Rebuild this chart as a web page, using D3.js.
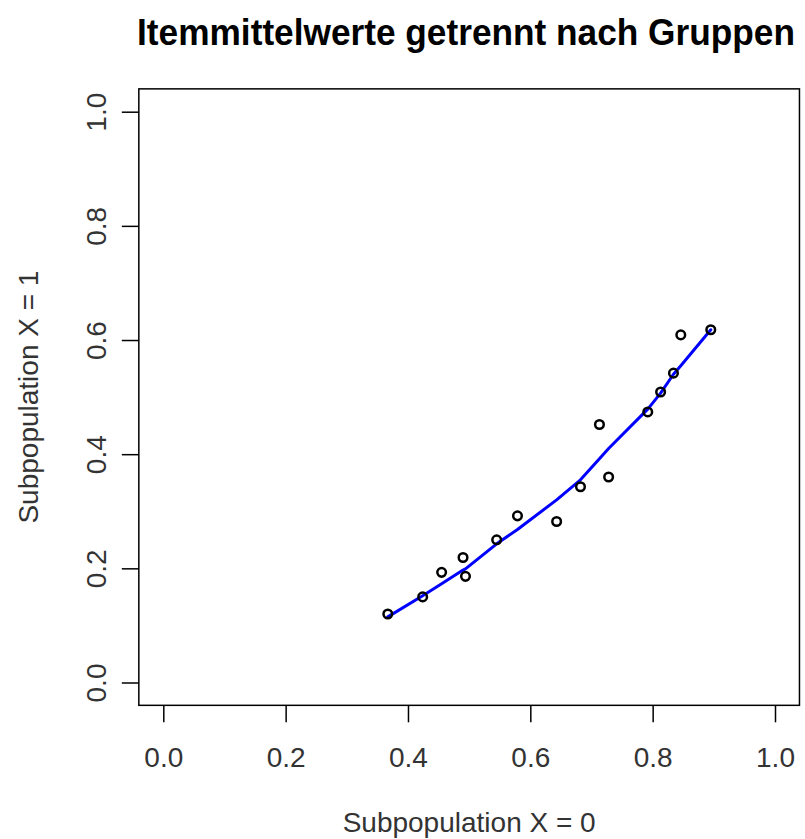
<!DOCTYPE html>
<html>
<head>
<meta charset="utf-8">
<script src="https://cdn.jsdelivr.net/npm/d3@7/dist/d3.min.js"></script>
<style>
  html, body { margin: 0; padding: 0; background: #fff; }
  svg { display: block; }
  text { font-family: "Liberation Sans", Arial, sans-serif; }
</style>
</head>
<body>
<svg id="chart" width="805" height="839"></svg>
<script>
// ---- Data ----
const title = "Itemmittelwerte getrennt nach Gruppen";
const xLabel = "Subpopulation X = 0";
const yLabel = "Subpopulation X = 1";
const tickValues = [0.0, 0.2, 0.4, 0.6, 0.8, 1.0];
const tickLabels = ["0.0", "0.2", "0.4", "0.6", "0.8", "1.0"];

// item means, group X = 0 (x) and group X = 1 (y)
const xValues = [0.367, 0.424, 0.455, 0.490, 0.494, 0.545, 0.579, 0.643,
                 0.682, 0.728, 0.713, 0.792, 0.813, 0.834, 0.846, 0.895];
const yValues = [0.120, 0.150, 0.193, 0.219, 0.186, 0.250, 0.292, 0.282,
                 0.343, 0.360, 0.452, 0.474, 0.509, 0.542, 0.609, 0.618];

// smoothed curve (lowess) evaluated at sorted x
const smoothX = [0.367, 0.424, 0.455, 0.490, 0.494, 0.545, 0.579, 0.643,
                 0.682, 0.713, 0.728, 0.792, 0.813, 0.834, 0.846, 0.895];
const smoothY = [0.115, 0.152, 0.173, 0.197, 0.199, 0.243, 0.268, 0.320,
                 0.355, 0.392, 0.410, 0.479, 0.507, 0.540, 0.555, 0.618];

// ---- Chart ----
const svg = d3.select("#chart");
const x = d3.scaleLinear().domain([0, 1]).range([163.3, 775]);
const y = d3.scaleLinear().domain([0, 1]).range([682.5, 111.7]);
const pad = 0.04;
const fx0 = x(-pad), fx1 = x(1 + pad), fy0 = y(-pad), fy1 = y(1 + pad);

// title (condensed horizontally to the reference width)
const titleText = svg.append("text")
  .attr("x", 0)
  .attr("y", 0)
  .attr("text-anchor", "middle")
  .attr("font-size", 37)
  .attr("font-weight", "bold")
  .attr("fill", "#000")
  .text(title);
const natW = titleText.node().getComputedTextLength();
const sx = Math.min(1, 658 / natW);
titleText.attr("transform", `translate(466,45) scale(${sx},1)`);

// frame
svg.append("rect")
  .attr("x", fx0).attr("y", fy1)
  .attr("width", fx1 - fx0).attr("height", fy0 - fy1)
  .attr("fill", "none").attr("stroke", "#000").attr("stroke-width", 1.5);

// x axis
const xAxis = d3.axisBottom(x)
  .tickValues(tickValues)
  .tickFormat((d, i) => tickLabels[i])
  .tickSize(17)
  .tickSizeOuter(0);
const gx = svg.append("g").attr("transform", `translate(0,${fy0})`).call(xAxis);
gx.select(".domain").remove();
gx.selectAll(".tick line").attr("stroke", "#000").attr("stroke-width", 1.5);
gx.selectAll(".tick text")
  .attr("font-size", 28).attr("fill", "#333")
  .attr("font-family", "'Liberation Sans', Arial, sans-serif")
  .attr("dy", null).attr("y", 62);

// y axis
const yAxis = d3.axisLeft(y)
  .tickValues(tickValues)
  .tickFormat((d, i) => tickLabels[i])
  .tickSize(17)
  .tickSizeOuter(0);
const gy = svg.append("g").attr("transform", `translate(${fx0},0)`).call(yAxis);
gy.select(".domain").remove();
gy.selectAll(".tick line").attr("stroke", "#000").attr("stroke-width", 1.5);
gy.selectAll(".tick text")
  .attr("font-size", 28).attr("fill", "#333")
  .attr("font-family", "'Liberation Sans', Arial, sans-serif")
  .attr("x", null).attr("dy", null)
  .attr("text-anchor", "middle")
  .attr("transform", "translate(-33,0) rotate(-90)");

// axis labels
svg.append("text")
  .attr("x", (fx0 + fx1) / 2).attr("y", 832)
  .attr("text-anchor", "middle")
  .attr("font-size", 28).attr("fill", "#333")
  .text(xLabel);
svg.append("text")
  .attr("transform", `translate(38,${(fy0 + fy1) / 2}) rotate(-90)`)
  .attr("text-anchor", "middle")
  .attr("font-size", 28).attr("fill", "#333")
  .text(yLabel);

// smooth line
const lineData = smoothX.map((d, i) => [d, smoothY[i]]);
svg.append("path")
  .datum(lineData)
  .attr("d", d3.line().x(d => x(d[0])).y(d => y(d[1])))
  .attr("fill", "none").attr("stroke", "#0000ff").attr("stroke-width", 3)
  .attr("stroke-linejoin", "round").attr("stroke-linecap", "round");

// points
const pts = xValues.map((d, i) => [d, yValues[i]]);
svg.append("g").selectAll("circle")
  .data(pts).enter().append("circle")
  .attr("cx", d => x(d[0])).attr("cy", d => y(d[1]))
  .attr("r", 4.3)
  .attr("fill", "none").attr("stroke", "#000").attr("stroke-width", 2.5);
</script>
</body>
</html>
